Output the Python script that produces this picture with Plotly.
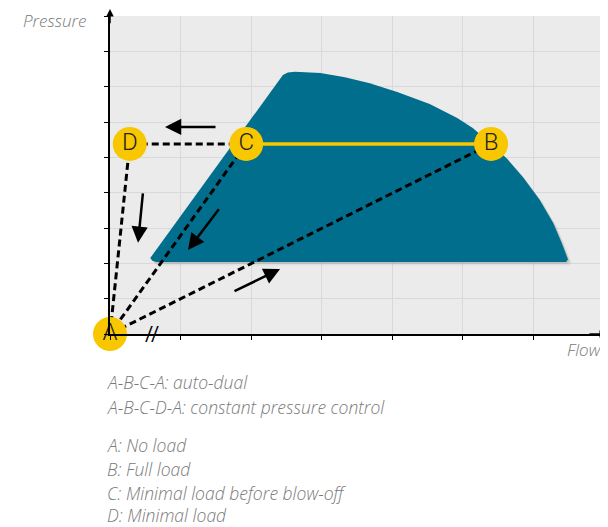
import plotly.graph_objects as go

# operating points (flow, pressure) in grid units
point_labels = ["A", "B", "C", "D"]
point_flow = [0.0, 5.40, 1.93, 0.28]
point_pressure = [0.0, 5.38, 5.38, 5.38]

# compressor operating envelope outline
envelope_flow = [0.66, 0.60, 0.57, 2.45, 2.52, 2.62, 2.98, 3.33, 3.68, 4.07, 4.53,
                 4.92, 5.14, 5.40, 5.63, 5.85, 6.09, 6.28, 6.40, 6.48, 6.49, 6.46, 0.66]
envelope_pressure = [2.04, 2.07, 2.15, 7.33, 7.40, 7.42, 7.39, 7.27, 7.10, 6.85, 6.51,
                     6.11, 5.83, 5.38, 4.95, 4.44, 3.79, 3.14, 2.58, 2.18, 2.11, 2.04, 2.04]

# control paths between points
dashed_paths = [("A", "D"), ("D", "C"), ("C", "A"), ("A", "B")]
solid_paths = [("C", "B")]

# direction arrows: tail and head positions
arrow_tail_flow = [1.516, 0.468, 1.559, 1.743]
arrow_tail_pressure = [5.86, 4.02, 3.57, 1.19]
arrow_head_flow = [0.779, 0.397, 1.105, 2.41]
arrow_head_pressure = [5.86, 2.58, 2.38, 1.84]

legend_lines = ["A-B-C-A: auto-dual",
                "A-B-C-D-A: constant pressure control",
                "A: No load",
                "B: Full load",
                "C: Minimal load before blow-off",
                "D: Minimal load"]
legend_pixel_y = [382, 407, 445, 469, 493, 515]

BLUE = "#006e8c"
YELLOW = "#f8c700"
GREY_TEXT = "#7a7a7a"
TEXT_FONT = "Open Sans"

pos = {k: (fx, py) for k, fx, py in zip(point_labels, point_flow, point_pressure)}

fig = go.Figure()

# soft shadow behind the envelope
for off, op in [(0.10, 0.05), (0.06, 0.07), (0.03, 0.08)]:
    fig.add_trace(go.Scatter(
        x=[v + off * 0.5 for v in envelope_flow],
        y=[v - off for v in envelope_pressure],
        fill="toself", fillcolor=f"rgba(0,0,0,{op})",
        line=dict(width=0), mode="lines", hoverinfo="skip", showlegend=False))

fig.add_trace(go.Scatter(
    x=envelope_flow, y=envelope_pressure, fill="toself", fillcolor=BLUE,
    line=dict(width=0, color=BLUE), mode="lines", hoverinfo="skip", showlegend=False))

for a, b in dashed_paths:
    fig.add_trace(go.Scatter(
        x=[pos[a][0], pos[b][0]], y=[pos[a][1], pos[b][1]], mode="lines",
        line=dict(color="black", width=3, dash="7px,4px"),
        hoverinfo="skip", showlegend=False, cliponaxis=False))

for a, b in solid_paths:
    fig.add_trace(go.Scatter(
        x=[pos[a][0], pos[b][0]], y=[pos[a][1], pos[b][1]], mode="lines",
        line=dict(color=YELLOW, width=3.5),
        hoverinfo="skip", showlegend=False))

fig.add_trace(go.Scatter(
    x=point_flow, y=point_pressure, mode="markers+text",
    text=point_labels, textposition="middle center",
    textfont=dict(family="Roboto", size=24, color="#222222", weight=300),
    marker=dict(size=34, color=YELLOW, line=dict(width=0)),
    hoverinfo="skip", showlegend=False, cliponaxis=False))

for tx, ty, hx, hy in zip(arrow_tail_flow, arrow_tail_pressure, arrow_head_flow, arrow_head_pressure):
    fig.add_annotation(x=hx, y=hy, ax=tx, ay=ty, xref="x", yref="y", axref="x", ayref="y",
                       showarrow=True, arrowhead=2, arrowsize=1.3, arrowwidth=2.5,
                       arrowcolor="black", text="")

# axis arrows
fig.add_annotation(x=0, y=1.035, xref="paper", yref="paper", ax=0, ay=20,
                   showarrow=True, arrowhead=2, arrowsize=1, arrowwidth=1.5,
                   arrowcolor="black", text="")
fig.add_annotation(x=1.008, y=0, xref="paper", yref="paper", ax=-20, ay=0,
                   showarrow=True, arrowhead=2, arrowsize=1, arrowwidth=1.5,
                   arrowcolor="black", text="")

# axis break mark
fig.add_annotation(x=0.6, y=0, xref="x", yref="y", text="//", showarrow=False,
                   font=dict(family="Roboto", size=20, color="black"), xanchor="center", yanchor="middle")

fig.add_annotation(x=-0.045, y=0.985, xref="paper", yref="paper", text="<i>Pressure</i>",
                   showarrow=False, xanchor="right", yanchor="middle",
                   font=dict(family=TEXT_FONT, size=17, color=GREY_TEXT, weight=300))
fig.add_annotation(x=1.0, y=-0.05, xref="paper", yref="paper", text="<i>Flow</i>",
                   showarrow=False, xanchor="right", yanchor="middle",
                   font=dict(family=TEXT_FONT, size=17, color=GREY_TEXT, weight=300))

for line, py in zip(legend_lines, legend_pixel_y):
    fig.add_annotation(x=-0.01, y=(334 - py) / 318, xref="paper", yref="paper", text=f"<i>{line}</i>",
                       showarrow=False, xanchor="left", yanchor="middle",
                       font=dict(family=TEXT_FONT, size=17.5, color=GREY_TEXT, weight=300))

# page body adds an 8px offset, so the figure is 8px smaller on each side
fig.update_layout(
    width=600, height=519,
    margin=dict(l=102, r=4, t=8, b=193),
    paper_bgcolor="white", plot_bgcolor="#ebebeb",
    xaxis=dict(range=[0, 7], dtick=1, showticklabels=False, showgrid=True, gridcolor="#d9d9d9",
               gridwidth=1, zeroline=False, showline=True, linecolor="black", linewidth=2,
               ticks="outside", ticklen=4, tickcolor="black", fixedrange=True),
    yaxis=dict(range=[0, 9], dtick=1, showticklabels=False, showgrid=True, gridcolor="#d9d9d9",
               gridwidth=1, zeroline=False, showline=True, linecolor="black", linewidth=2,
               ticks="outside", ticklen=4, tickcolor="black", fixedrange=True),
)

fig.write_html("out.html")
